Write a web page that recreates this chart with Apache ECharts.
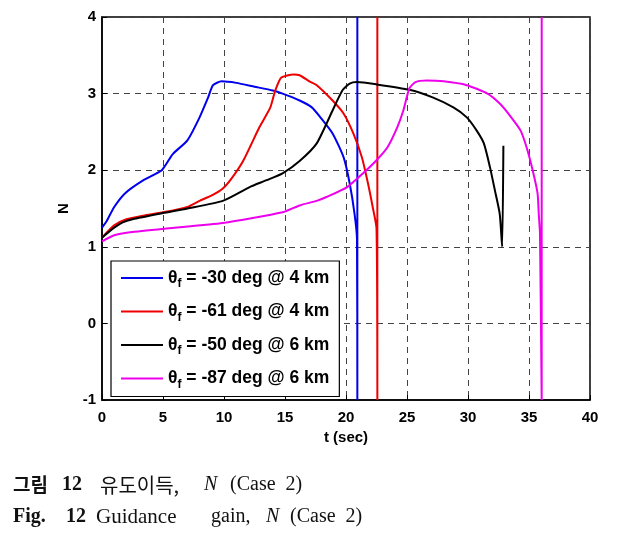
<!DOCTYPE html>
<html>
<head>
<meta charset="utf-8">
<script src="https://cdn.jsdelivr.net/npm/echarts@6/dist/echarts.min.js"></script>
<style>html,body{margin:0;padding:0;background:#fff}#c{width:619px;height:537px}</style>
</head>
<body>
<div id="c"></div>
<script>
// ---- data ----
var seriesNames = ['-30 deg @ 4 km', '-61 deg @ 4 km', '-50 deg @ 6 km', '-87 deg @ 6 km'];
var seriesColors = ['#0000ee', '#ee0000', '#000000', '#ee00ee'];

var blueT = [0, 0.4, 1, 1.9, 3.4, 4.9, 5.8, 7.0, 8.0, 8.7, 9.1, 9.8, 11, 12.5, 14, 14.8, 16.2, 17.2, 17.9, 18.9, 19.8, 20.3, 20.7, 20.9, 20.93, 20.93];
var blueN = [1.25, 1.34, 1.52, 1.70, 1.87, 2.0, 2.21, 2.39, 2.69, 2.95, 3.11, 3.16, 3.14, 3.09, 3.04, 3.0, 2.91, 2.82, 2.69, 2.48, 2.17, 1.83, 1.43, 1.1, -1, 4];

var redT = [0, 1, 2, 3.5, 5, 6, 7, 8, 9, 9.9, 10.7, 11.6, 12.9, 13.8, 14.2, 14.7, 15.7, 16.2, 17.0, 17.6, 18.9, 19.8, 20.6, 21.3, 21.8, 22.2, 22.5, 22.57, 22.57];
var redN = [1.12, 1.28, 1.36, 1.41, 1.45, 1.48, 1.52, 1.6, 1.67, 1.76, 1.91, 2.13, 2.56, 2.82, 3.04, 3.21, 3.25, 3.24, 3.16, 3.11, 2.91, 2.74, 2.48, 2.17, 1.83, 1.51, 1.24, -1, 4];

var blackT = [0, 1, 1.7, 2.5, 5, 7, 9.9, 12.1, 13.5, 14.8, 16.2, 17.6, 18.9, 19.7, 20.3, 20.9, 22.5, 25.2, 27.1, 28.8, 29.9, 30.7, 31.3, 31.8, 32.2, 32.6, 32.8, 32.9];
var blackN = [1.12, 1.25, 1.32, 1.36, 1.44, 1.50, 1.6, 1.78, 1.87, 1.96, 2.12, 2.35, 2.78, 3.04, 3.13, 3.15, 3.12, 3.05, 2.95, 2.82, 2.69, 2.52, 2.35, 2.04, 1.74, 1.43, 1.0, 2.32];

var magT = [0, 1, 2.3, 5.3, 9.9, 14.8, 16.2, 17.6, 18.4, 20.1, 21.4, 22.5, 23.4, 24.2, 24.7, 25.2, 25.7, 26.6, 28.0, 29.9, 31.6, 32.6, 33.4, 34.3, 34.8, 35.3, 35.7, 35.8, 35.9, 36.04, 36.04];
var magN = [1.07, 1.15, 1.19, 1.24, 1.31, 1.45, 1.54, 1.6, 1.65, 1.78, 1.96, 2.13, 2.3, 2.56, 2.78, 3.07, 3.15, 3.17, 3.16, 3.11, 3.0, 2.87, 2.72, 2.52, 2.3, 2.0, 1.7, 1.43, 1.17, -1, 4];

var xTicks = [0, 5, 10, 15, 20, 25, 30, 35, 40];
var yTicks = [-1, 0, 1, 2, 3, 4];

function pairs(t, n) { return t.map(function (v, i) { return [v, n[i]]; }); }
var allT = [blueT, redT, blackT, magT];
var allN = [blueN, redN, blackN, magN];

var series = allT.map(function (t, i) {
  return {
    name: seriesNames[i],
    type: 'line',
    data: pairs(t, allN[i]),
    showSymbol: false,
    symbol: 'none',
    smooth: 0.2,
    clip: true,
    lineStyle: { color: seriesColors[i], width: 2 },
    itemStyle: { color: seriesColors[i] },
    z: 3 + i
  };
});

var chart = echarts.init(document.getElementById('c'), null, { renderer: 'canvas' });
var axisFont = { fontFamily: 'Liberation Sans, Arial, sans-serif', fontWeight: 'bold', fontSize: 15, color: '#000' };
var serif = 'Liberation Serif, DejaVu Serif, serif';
var kfont = 'Noto Sans CJK KR, sans-serif';

function capText(x, y, text, font, weight, style, size) {
  return { type: 'text', left: x, top: y, style: { text: text, font: (style || 'normal') + ' ' + weight + ' ' + (size || 20) + 'px ' + font, fill: '#111' } };
}

chart.setOption({
  animation: false,
  backgroundColor: '#fff',
  grid: { left: 102, top: 17, width: 488, height: 383, show: true, borderColor: '#000', borderWidth: 1.5, backgroundColor: 'transparent' },
  xAxis: {
    type: 'value', min: 0, max: 40, interval: 5,
    name: 't (sec)', nameLocation: 'middle', nameGap: 29,
    nameTextStyle: axisFont,
    axisLine: { show: true, onZero: false, lineStyle: { color: '#000', width: 1.5 } },
    axisTick: { show: true, inside: true, length: 5, lineStyle: { color: '#000' } },
    axisLabel: Object.assign({ margin: 10, formatter: function (v) { return xTicks.indexOf(v) >= 0 ? String(v) : ''; } }, axisFont),
    splitLine: { show: true, lineStyle: { color: '#444', type: [6, 5], width: 1 } }
  },
  yAxis: {
    type: 'value', min: -1, max: 4, interval: 1,
    name: 'N', nameLocation: 'middle', nameGap: 31,
    nameTextStyle: axisFont,
    axisLine: { show: true, onZero: false, lineStyle: { color: '#000', width: 1.5 } },
    axisTick: { show: true, inside: true, length: 5, lineStyle: { color: '#000' } },
    axisLabel: Object.assign({ margin: 6, formatter: function (v) { return yTicks.indexOf(v) >= 0 ? String(v) : ''; } }, axisFont),
    splitLine: { show: true, lineStyle: { color: '#444', type: [6, 5], width: 1 } }
  },
  legend: {
    data: seriesNames,
    orient: 'vertical',
    left: 111, top: 261,
    padding: [8, 10, 6, 10],
    itemGap: 12.5,
    icon: 'rect',
    itemWidth: 42, itemHeight: 2,
    backgroundColor: '#fff',
    borderColor: '#000', borderWidth: 1.2,
    formatter: function (name) { return '{t|θ}{s|f}{t| = ' + name + '}'; },
    textStyle: {
      rich: {
        t: { fontFamily: 'Liberation Sans, Arial, sans-serif', fontWeight: 'bold', fontSize: 17.5, color: '#000' },
        s: { fontFamily: 'Liberation Sans, Arial, sans-serif', fontWeight: 'bold', fontSize: 12, color: '#000', padding: [12, 0, 0, 0] }
      }
    },
    selectedMode: false
  },
  series: series,
  graphic: [
    capText(13, 475, '그림', kfont, 'bold', 'normal', 19),
    capText(62, 475, '12', serif, 'bold'),
    capText(100, 475, '유도이득,', kfont, 'normal', 'normal', 20),
    capText(204, 475, 'N', serif, 'normal', 'italic'),
    capText(230, 475, '(Case  2)', serif, 'normal'),
    capText(13, 507, 'Fig.', serif, 'bold'),
    capText(66, 507, '12', serif, 'bold'),
    capText(96, 507, 'Guidance', serif, 'normal', 'normal', 21),
    capText(211, 507, 'gain,', serif, 'normal'),
    capText(266, 507, 'N', serif, 'normal', 'italic'),
    capText(290, 507, '(Case  2)', serif, 'normal')
  ]
});
</script>
</body>
</html>
